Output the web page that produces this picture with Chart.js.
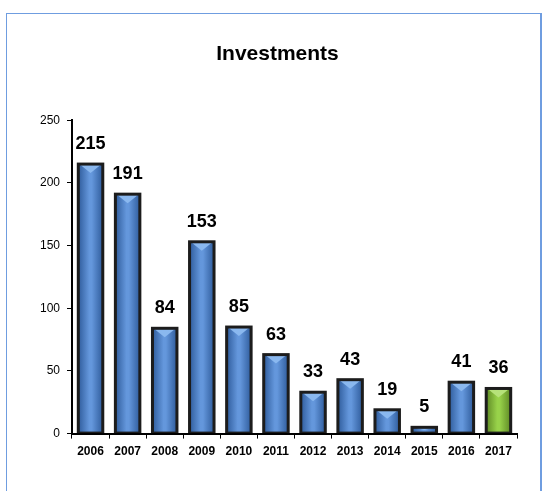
<!DOCTYPE html>
<html>
<head>
<meta charset="utf-8">
<script src="https://cdn.jsdelivr.net/npm/chart.js@4"></script>
<style>
  html, body { margin: 0; padding: 0; background: #ffffff; }
  body { width: 549px; height: 491px; position: relative; overflow: hidden; }
  #frame {
    position: absolute; left: 6px; top: 13px; width: 536px; height: 500px;
    border: 1px solid #6f9de0; border-right-width: 2px; box-sizing: border-box;
  }
  #wrap { position: absolute; left: 0; top: 0; width: 549px; height: 491px; }
</style>
</head>
<body>
<div id="frame"></div>
<div id="wrap"><canvas id="chart"></canvas></div>
<script>
// ===================== DADOS =====================
const YEARS = ['2006', '2007', '2008', '2009', '2010', '2011', '2012', '2013', '2014', '2015', '2016', '2017'];
const INVESTMENTS = [215, 191, 84, 153, 85, 63, 33, 43, 19, 5, 41, 36];
const HIGHLIGHT_YEAR = '2017';

const FONT_FAMILY = 'Arial, "Liberation Sans", sans-serif';
const BAR_PCT = 0.66;

// gradiente horizontal dentro da barra
function barFill(ctx) {
  const chart = ctx.chart;
  const green = YEARS[ctx.dataIndex] === HIGHLIGHT_YEAR;
  const xScale = chart.scales && chart.scales.x;
  if (!chart.chartArea || !xScale) return green ? '#8cc63f' : '#4f81c7';
  const cx = xScale.getPixelForValue(ctx.dataIndex);
  const half = (xScale.width / YEARS.length) * BAR_PCT / 2;
  if (!Number.isFinite(cx) || !Number.isFinite(half)) return green ? '#8cc63f' : '#4f81c7';
  const g = chart.ctx.createLinearGradient(cx - half, 0, cx + half, 0);
  if (green) {
    g.addColorStop(0, '#5f8a25');
    g.addColorStop(0.45, '#98d24a');
    g.addColorStop(0.55, '#98d24a');
    g.addColorStop(1, '#5f8a25');
  } else {
    g.addColorStop(0, '#2f5c9c');
    g.addColorStop(0.45, '#6497dc');
    g.addColorStop(0.55, '#6497dc');
    g.addColorStop(1, '#2f5c9c');
  }
  return g;
}

// contorno por fora, bisel triangular no topo + valores acima das barras
const barDecor = {
  id: 'barDecor',
  afterDatasetsDraw(chart) {
    const ctx = chart.ctx;
    const meta = chart.getDatasetMeta(0);
    meta.data.forEach((bar, i) => {
      const green = YEARS[i] === HIGHLIGHT_YEAR;
      const w = bar.width;
      const hBar = bar.base - bar.y;

      const half = w / 2 - 1;
      const h = Math.min(9, hBar - 3);
      if (h > 2) {
        ctx.save();
        ctx.fillStyle = green ? '#b6e27a' : '#8ab8ef';
        ctx.beginPath();
        ctx.moveTo(bar.x - half, bar.y);
        ctx.lineTo(bar.x + half, bar.y);
        ctx.lineTo(bar.x, bar.y + h);
        ctx.closePath();
        ctx.fill();
        ctx.restore();
      }

      ctx.save();
      ctx.strokeStyle = '#1c1c1c';
      ctx.lineWidth = 3;
      ctx.strokeRect(bar.x - w / 2, bar.y, w, hBar);
      ctx.restore();

      ctx.save();
      ctx.font = 'bold 18px ' + FONT_FAMILY;
      ctx.fillStyle = '#000';
      ctx.textAlign = 'center';
      ctx.textBaseline = 'alphabetic';
      ctx.fillText(String(INVESTMENTS[i]), bar.x, bar.y - 15);
      ctx.restore();
    });
  }
};

Chart.defaults.font.family = FONT_FAMILY;
Chart.defaults.color = '#000';

new Chart(document.getElementById('chart'), {
  type: 'bar',
  data: {
    labels: YEARS,
    datasets: [{
      label: 'Investments',
      data: INVESTMENTS,
      backgroundColor: barFill,
      borderWidth: 0,
      categoryPercentage: 1,
      barPercentage: BAR_PCT
    }]
  },
  options: {
    responsive: true,
    maintainAspectRatio: false,
    animation: false,
    layout: { padding: { left: 38, right: 32, top: 0, bottom: 26 } },
    plugins: {
      legend: { display: false },
      tooltip: { enabled: false },
      title: {
        display: true,
        text: 'Investments',
        color: '#000',
        font: { size: 21, weight: 'bold' },
        padding: { top: 42, bottom: 53 }
      }
    },
    scales: {
      x: {
        grid: { display: true, drawOnChartArea: false, color: '#000', tickLength: 5, lineWidth: 1 },
        border: { display: true, color: '#000', width: 2, z: 1 },
        ticks: { font: { size: 12, weight: 'bold' }, padding: 6, maxRotation: 0, autoSkip: false }
      },
      y: {
        min: 0,
        max: 250,
        afterFit(scale) { scale.width = 34; },
        grid: { display: true, drawOnChartArea: false, color: '#000', tickLength: 5, lineWidth: 1 },
        border: { display: true, color: '#000', width: 2 },
        ticks: { stepSize: 50, font: { size: 12 }, padding: 7 }
      }
    }
  },
  plugins: [barDecor]
});
</script>
</body>
</html>
